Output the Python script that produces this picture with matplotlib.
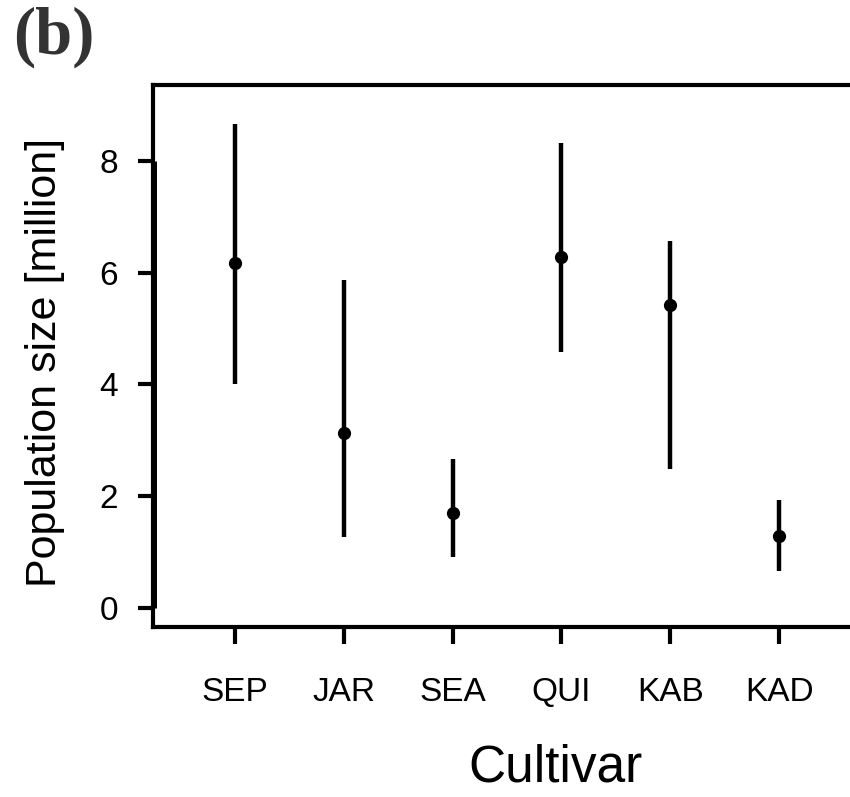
import matplotlib.pyplot as plt

# Population size estimates per cultivar (million)
cultivars = ["SEP", "JAR", "SEA", "QUI", "KAB", "KAD"]
estimate = [6.18, 3.13, 1.70, 6.28, 5.42, 1.28]
lower = [4.00, 1.26, 0.91, 4.58, 2.49, 0.66]
upper = [8.67, 5.87, 2.66, 8.32, 6.57, 1.93]
yticks = [0, 2, 4, 6, 8]

plt.rcParams["font.family"] = ["Liberation Sans", "DejaVu Sans"]

# Creating the figure
fig = plt.figure(figsize=(8.5, 7.97), dpi=100)
ax = fig.add_axes([0.18, 0.2133, 0.833, 0.68])

pos = list(range(1, len(cultivars) + 1))

# Intervals and point estimates
ax.vlines(pos, lower, upper, color="black", linewidth=3.2)
ax.plot(pos, estimate, "o", color="black", markersize=8.5)

# Customizing axis
ax.set_xlim(0.25, 6.75)
ax.set_ylim(-0.345, 9.36)
ax.set_xticks(pos)
ax.set_xticklabels(cultivars)
ax.set_yticks(yticks)
ax.set_yticklabels([str(t) for t in yticks])

for side in ["top", "bottom", "left", "right"]:
    ax.spines[side].set_linewidth(3)

ax.tick_params(axis="x", length=12, width=3, pad=24, labelsize=24)
ax.tick_params(axis="y", length=11, width=3, pad=14, labelsize=24)

# R-style y axis line from 0 to 8
ax.plot([0.26, 0.26], [0, 8], color="black", linewidth=3.6, clip_on=False,
        solid_capstyle="butt")

# Labels
fig.text(0.053, 0.545, "Population size [million]", rotation=90, ha="center",
         va="center", fontsize=31)
fig.text(0.653, 0.02, "Cultivar", ha="center", va="baseline", fontsize=37)
fig.text(0.016, 0.953, "(b)", ha="left", va="center", fontsize=48,
         fontweight="bold", family="Liberation Serif", color="#333333")

plt.savefig("out.png")
plt.close()
